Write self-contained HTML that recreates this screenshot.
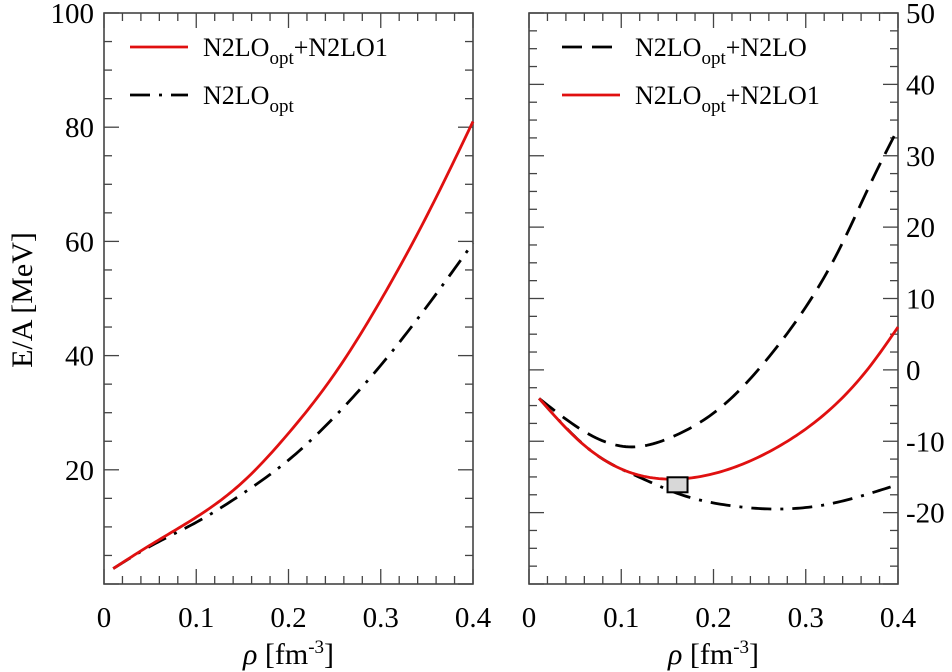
<!DOCTYPE html>
<html><head><meta charset="utf-8">
<style>
html,body{margin:0;padding:0;background:#fff;}
svg{display:block;}
svg text{font-family:"Liberation Serif","DejaVu Serif",serif;}
</style></head>
<body>
<svg id="chart" width="952" height="672" viewBox="0 0 952 672" font-family="Liberation Serif, serif"></svg>
<script>
// Left panel data
const leftRedX = [0.010,0.050,0.100,0.150,0.200,0.250,0.300,0.350,0.400];
const leftRedY = [2.7,6.8,11.7,17.8,26.4,36.8,49.7,64.5,81.0];
const leftDashDotX = [0.010,0.050,0.100,0.150,0.200,0.250,0.300,0.350,0.400];
const leftDashDotY = [2.7,6.6,10.8,15.8,21.7,29.3,38.3,48.6,59.7];
// Right panel data
const rightDashX = [0.011,0.083,0.112,0.155,0.213,0.260,0.300,0.336,0.372,0.400];
const rightDashY = [-4.0,-10.1,-10.8,-9.4,-4.7,1.8,8.8,16.8,26.6,33.8];
const rightRedX = [0.011,0.054,0.108,0.159,0.217,0.275,0.325,0.369,0.400];
const rightRedY = [-4.0,-9.9,-14.3,-15.3,-13.9,-10.4,-5.7,0.4,6.0];
const rightDashDotX = [0.011,0.072,0.119,0.163,0.217,0.267,0.325,0.392];
const rightDashDotY = [-4.0,-11.8,-15.0,-17.4,-19.0,-19.5,-18.8,-16.4];
const satX = [0.161];
const satY = [-16.1];
const xTicks = [0,0.1,0.2,0.3,0.4];
const xTickLabels = ["0","0.1","0.2","0.3","0.4"];
const leftYTicks = [20,40,60,80,100];
const rightYTicks = [-20,-10,0,10,20,30,40,50];

const NS="http://www.w3.org/2000/svg";
const svg=document.getElementById('chart');
const FONT='Liberation Serif, serif';
function mk(tag,attrs,parent){const e=document.createElementNS(NS,tag);for(const k in attrs)e.setAttribute(k,attrs[k]);if(tag==='text')e.setAttribute('font-family',FONT);(parent||svg).appendChild(e);return e;}

const plotTop=13,plotBottom=584;
const L={x0:104,x1:473,ymin:0,ymax:100};
const R={x0:529,x1:898,ymin:-30,ymax:50};
function sx(p,v){return p.x0+v/0.4*(p.x1-p.x0);}
function sy(p,v){return plotBottom-(v-p.ymin)/(p.ymax-p.ymin)*(plotBottom-plotTop);}

function spline(xs,ys){
  const n=xs.length,h=[],a=[],l=[1],mu=[0],z=[0],c=new Array(n).fill(0),b=[],d=[];
  for(let i=0;i<n-1;i++)h[i]=xs[i+1]-xs[i];
  for(let i=1;i<n-1;i++)a[i]=3/h[i]*(ys[i+1]-ys[i])-3/h[i-1]*(ys[i]-ys[i-1]);
  for(let i=1;i<n-1;i++){l[i]=2*(xs[i+1]-xs[i-1])-h[i-1]*mu[i-1];mu[i]=h[i]/l[i];z[i]=(a[i]-h[i-1]*z[i-1])/l[i];}
  for(let j=n-2;j>=0;j--){c[j]=(j>0?z[j]:0)-mu[j]*c[j+1];b[j]=(ys[j+1]-ys[j])/h[j]-h[j]*(c[j+1]+2*c[j])/3;d[j]=(c[j+1]-c[j])/(3*h[j]);}
  return function(x){let i=0;while(i<n-2&&x>xs[i+1])i++;const t=x-xs[i];return ys[i]+b[i]*t+c[i]*t*t+d[i]*t*t*t;};
}

function frame(p,name,ySide){
  const g=mk('g',{});
  
  
  const r=mk('rect',{x:p.x0,y:plotTop,width:p.x1-p.x0,height:plotBottom-plotTop,fill:'none',stroke:'#444','stroke-width':1.6},g);
  
  
  for(let i=0;i<=20;i++){
    const v=i*0.02, X=sx(p,v), len=(i%5===0)?15:8;
    mk('line',{x1:X,y1:plotBottom,x2:X,y2:plotBottom-len,stroke:'#444','stroke-width':1.3},g);
    mk('line',{x1:X,y1:plotTop,x2:X,y2:plotTop+len,stroke:'#444','stroke-width':1.3},g);
  }
  xTicks.forEach((v,i)=>{
    const t=mk('text',{x:sx(p,v),y:627,'font-size':29,'text-anchor':'middle',fill:'#000'},g);
    t.textContent=xTickLabels[i];
    
    
  });
  const step=(p===L)?5:2.5;
  for(let v=p.ymin;v<=p.ymax+1e-6;v+=step){
    const Y=sy(p,v);
    const major=(Math.abs(v%10)<1e-6 && (p===R || Math.abs(v%20)<1e-6));
    const len=major?15:8;
    mk('line',{x1:p.x0,y1:Y,x2:p.x0+len,y2:Y,stroke:'#444','stroke-width':1.3},g);
    mk('line',{x1:p.x1,y1:Y,x2:p.x1-len,y2:Y,stroke:'#444','stroke-width':1.3},g);
  }
  const ticks=(p===L)?leftYTicks:rightYTicks;
  ticks.forEach(v=>{
    const t=mk('text',{x:ySide==='left'?p.x0-10:p.x1+8,y:sy(p,v)+10,'font-size':29,'text-anchor':ySide==='left'?'end':'start',fill:'#000'},g);
    t.textContent=String(v);
    
    
  });
  const xl=mk('text',{x:(p.x0+p.x1)/2,y:664,'font-size':30,'text-anchor':'middle',fill:'#000'},g);
  xl.innerHTML='<tspan font-style="italic">ρ</tspan> [fm<tspan dy="-11" font-size="19">-3</tspan><tspan dy="11">]</tspan>';
  
  
}
frame(L,'left-panel','left');
frame(R,'right-panel','right');

const yl=mk('text',{x:0,y:0,'font-size':30,'text-anchor':'middle',fill:'#000',transform:'translate(32,300) rotate(-90)'});
yl.textContent='E/A [MeV]';



function series(p,xs,ys,style,name){
  const f=spline(xs,ys);
  const x0=xs[0],x1=xs[xs.length-1],N=120;
  let d='';
  for(let k=0;k<=N;k++){const x=x0+(x1-x0)*k/N;d+=(k?'L':'M')+sx(p,x).toFixed(2)+','+sy(p,f(x)).toFixed(2);}
  const e=mk('path',Object.assign({d:d,fill:'none','stroke-linejoin':'round'},style));
  
  
}
const red={stroke:'#e01010','stroke-width':2.8};
const dd={stroke:'#000','stroke-width':2.8,'stroke-dasharray':'20 9 3 9'};
const ds={stroke:'#000','stroke-width':2.8,'stroke-dasharray':'20 10'};
series(L,leftDashDotX,leftDashDotY,dd,'left-n2loopt-line');
series(L,leftRedX,leftRedY,red,'left-n2loopt-n2lo1-line');
series(R,rightDashDotX,rightDashDotY,dd,'right-n2loopt-line');
series(R,rightDashX,rightDashY,ds,'right-n2loopt-n2lo-line');
series(R,rightRedX,rightRedY,red,'right-n2loopt-n2lo1-line');
satX.forEach((v,i)=>{
  const b=mk('rect',{x:sx(R,v)-10,y:sy(R,satY[i])-7.5,width:20,height:15,fill:'#d8d8d8',stroke:'#000','stroke-width':2});
  
  
});

function legend(x,y,style,label,sub,suffix,name){
  const g=mk('g',{});
  
  
  mk('line',Object.assign({x1:x,y1:y,x2:x+58,y2:y},style),g);
  const t=mk('text',{x:x+73,y:y+9,'font-size':26,fill:'#000'},g);
  t.innerHTML=label+'<tspan dy="8" font-size="19">'+sub+'</tspan><tspan dy="-8">'+suffix+'</tspan>';
}
legend(130,47,red,'N2LO','opt','+N2LO1','legend-entry-n2loopt-n2lo1');
legend(130,95,dd,'N2LO','opt','','legend-entry-n2loopt');
legend(562,47,ds,'N2LO','opt','+N2LO','legend-entry-n2loopt-n2lo');
legend(562,95,red,'N2LO','opt','+N2LO1','legend-entry-right-n2loopt-n2lo1');
</script>
</body></html>
